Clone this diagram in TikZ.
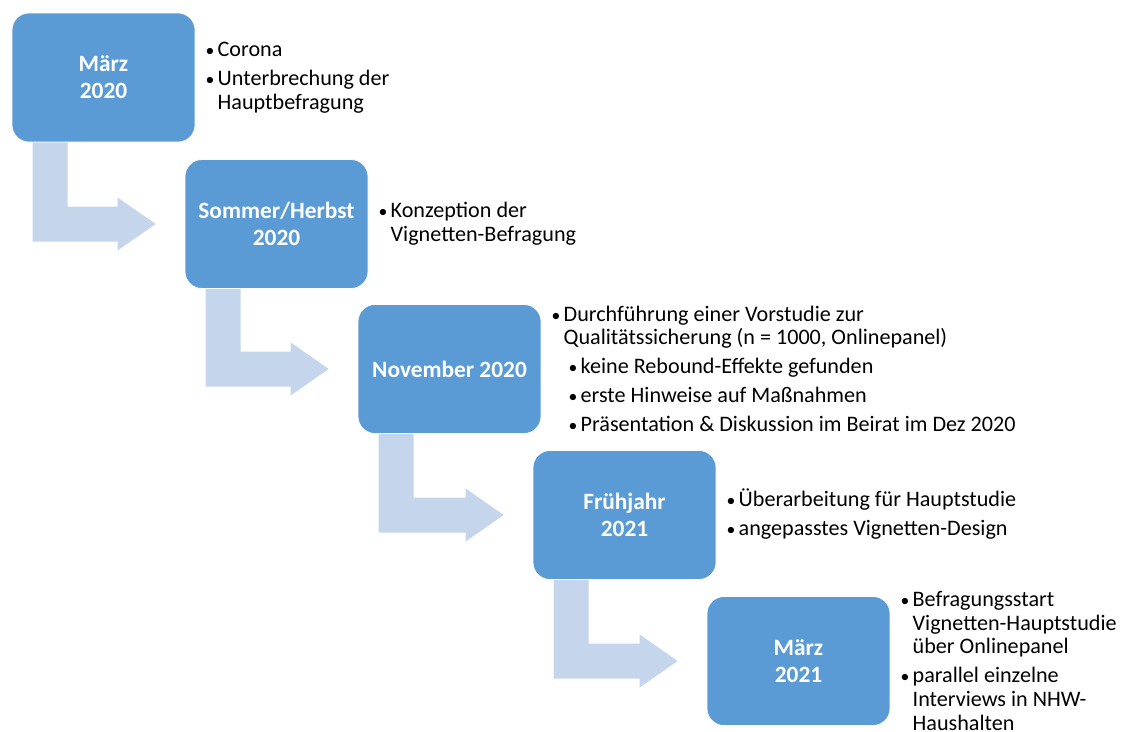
\documentclass[tikz,border=0pt]{standalone}
\usepackage{fontspec}
\setmainfont{Carlito}
\usetikzlibrary{positioning,calc}

\definecolor{phaseblue}{HTML}{5B9BD5}
\definecolor{arrowblue}{HTML}{C5D6EC}

% Stichpunkt mit haengendem Einzug, optional eingerueckt
\newcommand{\punkt}[2][0cm]{\par\setlength{\parskip}{0.11cm}%
  \spaceskip=0pt \xspaceskip=0pt
  \hangindent=\dimexpr#1+0.24cm\relax\hangafter=1
  \noindent\hspace*{#1}\makebox[0.24cm][l]{\scalebox{0.8}{\textbullet}}#2\par}

\begin{document}
\begin{tikzpicture}[x=0.02cm, y=-0.02cm,
  phase/.style={draw=white, fill=phaseblue, rounded corners=0.34cm,
    minimum width=3.66cm, minimum height=2.58cm, align=center,
    text=white, font=\fontsize{13.3}{15.4}\selectfont\bfseries},
  notes/.style={inner sep=0pt, text width=12cm, align=left, yshift=0.14cm,
    font=\fontsize{12.6}{13.4}\selectfont},
  flow/.style={fill=arrowblue}]
  \useasboundingbox (0,0) rectangle (1125,731);

  % Phasen
  \node[phase] (b1) at (103.5,77.5) {März\\2020};
  \node[phase] (b2) at (276.5,224) {Sommer/Herbst\\2020};
  \node[phase] (b3) at (449.5,369) {November 2020};
  \node[phase] (b4) at (624.5,515) {Frühjahr\\2021};
  \node[phase] (b5) at (798.5,661) {März\\2021};

  % Pfeile
  \foreach \von/\nach in {b1/b2, b2/b3, b3/b4, b4/b5}
    \fill[flow] ($(\von.south west)+(21,0)$) coordinate (p) -- ++(35,0)
      |- ($(\nach.west)+(-67,-17.5)$) -- ++(0,-9) -- ($(\nach.west)+(-29,0)$)
      -- ($(\nach.west)+(-67,26.5)$) -- ++(0,-9) -| (p) -- cycle;

  % Stichpunkte
  \node[notes, right=0.2cm of b1] (t1) {\punkt{Corona}%
    \punkt{Unterbrechung der\newline Hauptbefragung}};
  \node[notes, right=0.2cm of b2] (t2) {\punkt{Konzeption der\newline Vignetten-Befragung}};
  \node[notes, right=0.2cm of b3] (t3) {\punkt{Durchführung einer Vorstudie zur\newline Qualitätssicherung (n = 1000, Onlinepanel)}%
    \punkt[0.34cm]{keine Rebound-Effekte gefunden}%
    \punkt[0.34cm]{erste Hinweise auf Maßnahmen}%
    \punkt[0.34cm]{Präsentation \& Diskussion im Beirat im Dez 2020}};
  \node[notes, right=0.2cm of b4] (t4) {\punkt{Überarbeitung für Hauptstudie}%
    \punkt{angepasstes Vignetten-Design}};
  \node[notes, right=0.2cm of b5] (t5) {\punkt{Befragungsstart\newline Vignetten-Hauptstudie\newline über Onlinepanel}%
    \punkt{parallel einzelne\newline Interviews in NHW-\newline Haushalten}};
\end{tikzpicture}
\end{document}
